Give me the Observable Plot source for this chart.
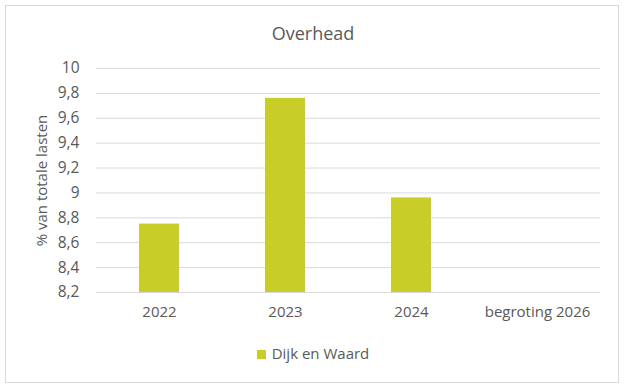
<!DOCTYPE html>
<html>
<head>
<meta charset="utf-8">
<script src="https://cdn.jsdelivr.net/npm/d3@7"></script>
<script src="https://cdn.jsdelivr.net/npm/@observablehq/plot@0.6"></script>
<style>
  html, body { margin: 0; padding: 0; background: #fff; }
  #wrap { position: relative; width: 626px; height: 390px; font-family: "Open Sans", sans-serif; color: #595959; }
  #frame { position: absolute; left: 5px; top: 5px; width: 614px; height: 378px; border: 1px solid #d9d9d9; box-sizing: border-box; }
  #title { position: absolute; left: 0; width: 626px; top: 20px; text-align: center; font-size: 18px; line-height: 26px; }
  #chart { position: absolute; left: 0; top: 50px; }
  #legend { position: absolute; left: 0; width: 626px; top: 342px; text-align: center; font-size: 15px; line-height: 22px; }
  #legend .sw { display: inline-block; width: 9px; height: 9px; background: #c8ce27; margin-right: 6px; vertical-align: 0px; }
</style>
</head>
<body>
<div id="wrap">
  <div id="frame"></div>
  <div id="title">Overhead</div>
  <div id="chart"></div>
  <div id="legend"><span class="sw"></span>Dijk en Waard</div>
</div>
<script>
const categories = ["2022", "2023", "2024", "begroting 2026"];
const values = [8.75, 9.76, 8.96, null];
const seriesName = "Dijk en Waard";
const yTicks = [8.2, 8.4, 8.6, 8.8, 9, 9.2, 9.4, 9.6, 9.8, 10];
const yMin = 8.2;
const yMax = 10;

const data = categories.map((c, i) => ({ cat: c, value: values[i], series: seriesName }));
const bars = data.filter(d => d.value != null);
const fmt = d => String(d).replace(".", ",");

const chart = Plot.plot({
  width: 626,
  height: 280,
  marginTop: 18,
  marginBottom: 38,
  marginLeft: 96,
  marginRight: 26,
  style: { fontFamily: "'Open Sans', sans-serif", fontSize: "15px", color: "#595959", background: "transparent" },
  x: { domain: categories, paddingInner: 0.68, paddingOuter: 0.34, label: null },
  y: { domain: [yMin, yMax], ticks: yTicks, label: null },
  marks: [
    Plot.ruleY(yTicks, { stroke: "#d9d9d9", strokeWidth: 1 }),
    Plot.barY(bars, { x: "cat", y1: yMin, y2: "value", fill: "#c8ce27" }),
    Plot.axisX({ tickSize: 0, tickPadding: 14, fontSize: 15, fill: "#595959", label: null }),
    Plot.axisY({ ticks: yTicks, tickSize: 0, tickPadding: 17, tickFormat: fmt, fontSize: 15.5, fill: "#595959", label: null }),
    Plot.text(["% van totale lasten"], { frameAnchor: "left", textAnchor: "middle", dx: -54, rotate: -90, fontSize: 15, fill: "#595959" })
  ]
});
document.getElementById("chart").appendChild(chart);
</script>
</body>
</html>
